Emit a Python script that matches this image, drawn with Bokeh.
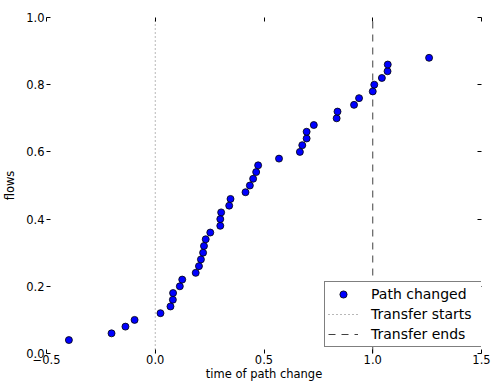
from bokeh.plotting import figure
from bokeh.models import Range1d, LinearAxis, FixedTicker, Legend, LegendItem, PrintfTickFormatter
from bokeh.embed import file_html
from bokeh.resources import INLINE

# ---- data ----
change_time = [-0.397, -0.201, -0.137, -0.095, 0.024, 0.070, 0.081, 0.082, 0.113, 0.124,
               0.186, 0.201, 0.210, 0.220, 0.224, 0.232, 0.253, 0.299, 0.299, 0.303,
               0.340, 0.346, 0.415, 0.435, 0.450, 0.464, 0.473, 0.569, 0.665, 0.676,
               0.696, 0.696, 0.729, 0.834, 0.838, 0.914, 0.937, 1.000, 1.007, 1.042,
               1.068, 1.069, 1.259]
flows = [0.04, 0.06, 0.08, 0.10, 0.12, 0.14, 0.16, 0.18, 0.20, 0.22,
         0.24, 0.26, 0.28, 0.30, 0.32, 0.34, 0.36, 0.38, 0.40, 0.42,
         0.44, 0.46, 0.48, 0.50, 0.52, 0.54, 0.56, 0.58, 0.60, 0.62,
         0.64, 0.66, 0.68, 0.70, 0.72, 0.74, 0.76, 0.78, 0.80, 0.82,
         0.84, 0.86, 0.88]
transfer_start = [0.0]
transfer_end = [1.0]
x_min, x_max = -0.5, 1.5
y_min, y_max = 0.0, 1.0
x_ticks = [-0.5, 0.0, 0.5, 1.0, 1.5]
y_ticks = [0.0, 0.2, 0.4, 0.6, 0.8, 1.0]
x_label = "time of path change"
y_label = "flows"
series_labels = ["Path changed", "Transfer starts", "Transfer ends"]

FONT = "DejaVu Sans"
TICK_FS = "11.5px"

p = figure(width=492, height=383,
           x_range=Range1d(x_min, x_max), y_range=Range1d(y_min, y_max),
           output_backend="svg", toolbar_location=None,
           min_border_left=45, min_border_right=11, min_border_top=17, min_border_bottom=30,
           x_axis_label=x_label, y_axis_label=y_label)
p.grid.visible = False
p.outline_line_color = None
p.background_fill_color = "white"
p.border_fill_color = "white"

p.add_layout(LinearAxis(), "above")
p.add_layout(LinearAxis(), "right")

for ax in p.axis:
    ax.axis_line_color = None
    ax.major_tick_in = 4
    ax.major_tick_out = 0
    ax.major_tick_line_color = "black"
    ax.minor_tick_line_color = None
    ax.major_label_text_font = FONT
    ax.major_label_text_font_size = TICK_FS
    ax.major_label_text_color = "black"
    ax.axis_label_text_font = FONT
    ax.axis_label_text_font_size = TICK_FS
    ax.axis_label_text_font_style = "normal"
    ax.axis_label_text_color = "black"
    ax.formatter = PrintfTickFormatter(format="%.1f")

for ax in p.xaxis:
    ax.ticker = FixedTicker(ticks=x_ticks)
    ax.major_label_overrides = {-0.5: "\u22120.5"}
for ax in p.yaxis:
    ax.ticker = FixedTicker(ticks=y_ticks)

# top / right axes carry only tick marks
for ax in (p.above[0], p.right[0]):
    ax.major_label_text_font_size = "0px"
    ax.major_label_text_color = None
    ax.major_label_standoff = 0
    ax.axis_label_standoff = 0

p.below[0].major_label_standoff = 1
p.below[0].axis_label_standoff = 0
p.left[0].major_label_standoff = 2
p.left[0].axis_label_standoff = 6

r_start = p.segment(x0=transfer_start, y0=[y_min], x1=transfer_start, y1=[y_max],
                    line_color="#707070", line_width=1, line_dash="1 3")
r_end = p.segment(x0=transfer_end, y0=[y_min], x1=transfer_end, y1=[y_max],
                  line_color="#404040", line_width=1, line_dash="7 6")
r_pts = p.scatter(x=change_time, y=flows, size=7, fill_color="#0000ff",
                  line_color="black", line_width=0.8)

legend = Legend(items=[LegendItem(label=series_labels[0], renderers=[r_pts]),
                       LegendItem(label=series_labels[1], renderers=[r_start]),
                       LegendItem(label=series_labels[2], renderers=[r_end])],
                location=(278, 6))
legend.label_text_font = FONT
legend.label_text_font_size = "14px"
legend.label_text_color = "black"
legend.border_line_color = "black"
legend.border_line_width = 1
legend.background_fill_color = "white"
legend.background_fill_alpha = 1.0
legend.padding = 3
legend.spacing = 2
legend.glyph_height = 18
legend.label_height = 18
legend.glyph_width = 30
legend.label_standoff = 13
legend.label_width = 110
legend.margin = 0
p.add_layout(legend)

open("out.html", "w").write(file_html(p, INLINE))
